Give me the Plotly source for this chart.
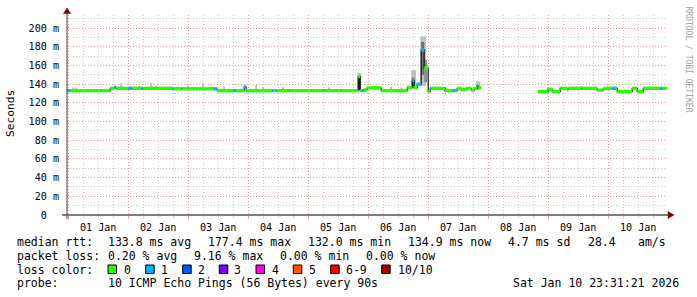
import pandas as pd
import plotly.graph_objects as go

# ---------------- data ----------------
range_start = "2025-12-31 23:31:21"
range_end = "2026-01-10 23:31:21"

seg_start = [
    "2025-12-31 23:31", "2026-01-01 00:48", "2026-01-01 16:48", "2026-01-01 18:24", "2026-01-01 19:12",
    "2026-01-02 00:00", "2026-01-02 01:36", "2026-01-02 05:12", "2026-01-02 06:00", "2026-01-02 17:36",
    "2026-01-02 18:00", "2026-01-02 21:12", "2026-01-02 21:36", "2026-01-03 10:00", "2026-01-03 11:36",
    "2026-01-03 18:00", "2026-01-03 19:12", "2026-01-03 22:24", "2026-01-03 23:12", "2026-01-04 09:36",
    "2026-01-04 10:00", "2026-01-04 11:12", "2026-01-04 11:36", "2026-01-05 06:00", "2026-01-05 06:24",
    "2026-01-05 20:00", "2026-01-05 20:48", "2026-01-05 21:36", "2026-01-05 22:24", "2026-01-05 23:36",
    "2026-01-06 05:12", "2026-01-06 15:36", "2026-01-06 17:36", "2026-01-06 18:24", "2026-01-06 19:36",
    "2026-01-06 21:12", "2026-01-06 22:24", "2026-01-07 00:00", "2026-01-07 00:48", "2026-01-07 01:12",
    "2026-01-07 06:48", "2026-01-07 09:36", "2026-01-07 10:48", "2026-01-07 11:36", "2026-01-07 13:12",
    "2026-01-07 15:12", "2026-01-07 17:12", "2026-01-07 18:24", "2026-01-07 19:36", "2026-01-07 20:00",
    "2026-01-07 21:12", "2026-01-08 20:00", "2026-01-09 00:00", "2026-01-09 01:36", "2026-01-09 04:48",
    "2026-01-09 07:36", "2026-01-09 08:00", "2026-01-09 13:12", "2026-01-09 13:36", "2026-01-09 19:36",
    "2026-01-09 22:00", "2026-01-09 22:48", "2026-01-10 01:36", "2026-01-10 02:48", "2026-01-10 03:36",
    "2026-01-10 09:36", "2026-01-10 11:36", "2026-01-10 14:00", "2026-01-10 20:48", "2026-01-10 21:36",
]
data_end = "2026-01-10 23:31"

# median rtt in ms (None = no data)
seg_median = [
    133.0, 133.0, 135.5, 136.5, 135.5,
    135.5, 135.5, 135.5, 135.5, 135.0,
    135.0, 135.0, 135.0, 135.0, 133.0,
    133.0, 133.0, 137.0, 133.0, 133.0,
    133.0, 133.0, 133.0, 133.0, 133.0,
    148.0, 133.0, 133.0, 134.0, 136.0,
    133.0, 136.0, 144.0, 136.0, 140.0,
    176.5, 157.0, 132.0, 135.5, 135.5,
    133.0, 133.0, 133.0, 135.5, 134.0,
    135.5, 133.5, 135.5, 138.0, 136.0,
    None, 132.0, 134.5, 132.0, 135.5,
    134.0, 135.5, 135.5, 135.5, 133.5,
    135.0, 135.5, 135.5, 135.5, 132.0,
    135.5, 132.0, 135.5, 135.5, 135.5,
]

# lost pings out of 10
seg_loss = [
    1, 0, 0, 1, 0,
    1, 0, 1, 0, 1,
    0, 1, 0, 1, 0,
    1, 0, 1, 0, 1,
    0, 1, 0, 1, 0,
    0, 0, 1, 0, 0,
    0, 0, 1, 0, 1,
    1, 0, 0, 1, 0,
    0, 1, 0, 0, 0,
    0, 0, 0, 1, 0,
    0, 0, 0, 0, 0,
    0, 0, 1, 0, 0,
    0, 0, 1, 0, 0,
    0, 0, 0, 1, 0,
]

# smoke (spread of individual pings), ms
smoke_start = ["2026-01-01 01:36", "2026-01-01 02:48", "2026-01-01 20:48", "2026-01-02 04:00", "2026-01-02 08:48",
               "2026-01-02 10:48", "2026-01-02 19:36", "2026-01-02 23:36", "2026-01-03 05:36", "2026-01-03 14:00",
               "2026-01-04 02:48", "2026-01-04 05:36", "2026-01-04 13:36", "2026-01-05 08:00", "2026-01-05 19:36",
               "2026-01-05 20:00", "2026-01-06 08:48", "2026-01-06 12:48", "2026-01-06 15:36", "2026-01-06 17:12",
               "2026-01-06 17:36", "2026-01-06 20:48", "2026-01-06 21:12", "2026-01-06 22:24", "2026-01-07 06:24",
               "2026-01-07 19:12", "2026-01-08 23:36"]
smoke_end = ["2026-01-01 02:24", "2026-01-01 03:36", "2026-01-01 21:36", "2026-01-02 04:48", "2026-01-02 09:36",
             "2026-01-02 11:36", "2026-01-02 20:00", "2026-01-03 00:00", "2026-01-03 06:24", "2026-01-03 14:24",
             "2026-01-04 03:36", "2026-01-04 06:00", "2026-01-04 14:00", "2026-01-05 08:24", "2026-01-05 21:12",
             "2026-01-05 20:48", "2026-01-06 09:36", "2026-01-06 13:36", "2026-01-06 16:24", "2026-01-06 19:12",
             "2026-01-06 18:24", "2026-01-06 23:12", "2026-01-06 22:24", "2026-01-06 23:36", "2026-01-07 06:48",
             "2026-01-07 20:48", "2026-01-09 00:00"]
smoke_lo = [132, 132, 134, 134, 134, 134, 134, 134, 134, 132,
            132, 132, 132, 132, 134, 134, 132, 132, 134, 136,
            138, 138, 150, 142, 132, 134, 132]
smoke_hi = [136.5, 136.5, 141, 138, 141, 138.5, 137.5, 138, 141, 137.5,
            139, 137, 137, 136.5, 152, 149, 137, 136.5, 139, 155,
            147, 191, 185, 166, 137, 143, 136.5]
smoke_shade = ["#c0c0c0"] * 15 + ["#202020"] + ["#c0c0c0"] * 4 + ["#606060", "#c0c0c0", "#707070", "#8c8c8c",
                                                                  "#c0c0c0", "#c0c0c0", "#c0c0c0"]

loss_labels = ["0", "1", "2", "3", "4", "5", "6-9", "10/10"]
loss_colors = ["#26ff00", "#00b8ff", "#0059ff", "#7e00ff", "#ff00f0", "#ff5500", "#ff0000", "#a10000"]

y_ticks = [0, 20, 40, 60, 80, 100, 120, 140, 160, 180, 200]
y_ticktext = ["0\u00a0\u00a0"] + [f"{v} m" for v in y_ticks[1:]]

stat_rtt = ["133.8 ms avg", "177.4 ms max", "132.0 ms min", "134.9 ms now", "4.7 ms sd", "28.4", "am/s"]
stat_loss = ["0.20 % avg", "9.16 % max", "0.00 % min", "0.00 % now"]
probe_text = "10 ICMP Echo Pings (56 Bytes) every 90s"
stamp_text = "Sat Jan 10 23:31:21 2026"

# ---------------- geometry ----------------
W, H = 697, 297
L, R, T, B = 67, 30, 15, 82
PW, PH = W - L - R, H - T - B
YMAX = 200 / 0.935

def px(x):
    return (x - L) / PW

def py(y):
    return (H - B - y) / PH

FONT = "DejaVu Sans Mono"

starts = pd.to_datetime(seg_start)
ends = list(starts[1:]) + [pd.Timestamp(data_end)]

fig = go.Figure()

# smoke
ss = pd.to_datetime(smoke_start)
se = pd.to_datetime(smoke_end)
centers = ss + (se - ss) / 2
widths = [(b - a).total_seconds() * 1000 for a, b in zip(ss, se)]
fig.add_trace(go.Bar(
    x=centers, y=[h - l for h, l in zip(smoke_hi, smoke_lo)], base=smoke_lo,
    width=widths, marker=dict(color=smoke_shade, line=dict(width=0)),
    hoverinfo="skip", showlegend=False,
))

# thin dark median line
lx, ly = [], []
for s, e, m in zip(starts, ends, seg_median):
    if m is None:
        lx.append(None); ly.append(None)
    else:
        lx += [s, e]; ly += [m, m]
fig.add_trace(go.Scatter(x=lx, y=ly, mode="lines", line=dict(color="#151515", width=1.2),
                         hoverinfo="skip", showlegend=False, connectgaps=False))

# loss coloured median band
for lvl in sorted(set(seg_loss)):
    bx, by = [], []
    for s, e, m, lo in zip(starts, ends, seg_median, seg_loss):
        if m is None or lo != lvl:
            continue
        bx += [s, e, None]; by += [m, m, None]
    fig.add_trace(go.Scatter(x=bx, y=by, mode="lines",
                             line=dict(color=loss_colors[lvl], width=3.4),
                             hoverinfo="skip", showlegend=False))

GRID = "#cdcdcd"
MGRID = "#e39a9a"

fig.update_layout(
    width=W, height=H,
    margin=dict(l=L, r=R, t=T, b=B, pad=0),
    paper_bgcolor="white", plot_bgcolor="white",
    barmode="overlay", showlegend=False,
    font=dict(family=FONT, size=10, color="black"),
    xaxis=dict(
        type="date", range=[range_start, range_end],
        tick0="2026-01-01", dtick=86400000, ticklabelmode="period", tickformat="%d %b",
        showgrid=True, gridcolor=MGRID, griddash="1px,2px", gridwidth=1,
        ticks="outside", ticklen=3, tickcolor=MGRID,
        tickfont=dict(family=FONT, size=10.1, color="black"),
        minor=dict(dtick=6 * 3600000, tick0="2026-01-01", showgrid=True, gridcolor=GRID,
                   griddash="1px,2px", ticks="outside", ticklen=2, tickcolor=GRID),
        showline=False, zeroline=False, fixedrange=True,
    ),
    yaxis=dict(
        range=[0, YMAX], tickmode="array", tickvals=y_ticks, ticktext=y_ticktext,
        showgrid=True, gridcolor=MGRID, griddash="1px,2px",
        ticks="outside", ticklen=5, tickcolor="rgba(0,0,0,0)",
        tickfont=dict(family=FONT, size=10.1, color="black"),
        minor=dict(tickmode="linear", tick0=0, dtick=10, showgrid=True, gridcolor=GRID,
                   griddash="1px,2px", ticks=""),
        showline=False, zeroline=False, fixedrange=True,
    ),
)

shapes = []
# x axis line + arrow
shapes.append(dict(type="line", xref="paper", yref="paper", x0=px(62), x1=px(669), y0=0, y1=0,
                   line=dict(color="#000000", width=1)))
shapes.append(dict(type="path", xref="paper", yref="paper",
                   path=f"M {px(668)},{py(211.5)} L {px(674)},{py(215)} L {px(668)},{py(218.5)} Z",
                   fillcolor="#7f0000", line=dict(color="#7f0000", width=0.5)))
# y axis line + arrow
shapes.append(dict(type="line", xref="paper", yref="paper", x0=0, x1=0, y0=py(219), y1=py(12),
                   line=dict(color="#5a3030", width=1)))
shapes.append(dict(type="path", xref="paper", yref="paper",
                   path=f"M {px(63.5)},{py(13.5)} L {px(67)},{py(8)} L {px(70.5)},{py(13.5)} Z",
                   fillcolor="#7f0000", line=dict(color="#7f0000", width=0.5)))

ann = []

def text(t, x, y, size=11.5, color="black", anchor="left"):
    ann.append(dict(text=t.replace(" ", "\u00a0"), x=px(x), y=py(y), xref="paper", yref="paper",
                    xanchor=anchor, yanchor="middle", showarrow=False, borderpad=0,
                    font=dict(family=FONT, size=size, color=color)))

# legend block
text("median rtt:", 16, 241.5)
for i, s in enumerate(stat_rtt[:5]):
    text(s, 107 + 100 * i, 241.5)
text(stat_rtt[5], 587, 241.5)
text(stat_rtt[6], 637, 241.5)

text("packet loss:", 16, 255.5)
for i, s in enumerate(stat_loss):
    text(s, 107 + 86 * i, 255.5)

text("loss color:", 16, 269.5)
sq_x = [108, 145.7, 182.7, 219.3, 256, 293.3, 330.7, 381.7]
lab_x = [123, 160, 196.7, 233, 270.7, 308, 345, 396.7]
for c, lab, sx, lx_ in zip(loss_colors, loss_labels, sq_x, lab_x):
    shapes.append(dict(type="rect", xref="paper", yref="paper",
                       x0=px(sx), x1=px(sx + 8.5), y0=py(273.5), y1=py(265),
                       fillcolor=c, line=dict(color="black", width=1)))
    text(lab, lx_, 269.5)

text("probe:", 16, 283)
text(probe_text, 107, 283)
text(stamp_text, 680, 283, anchor="right")

# y axis title
ann.append(dict(text="Seconds", x=px(10.5), y=py(113.5), xref="paper", yref="paper",
                xanchor="center", yanchor="middle", showarrow=False, textangle=-90,
                font=dict(family=FONT, size=11.2, color="black")))
# watermark
ann.append(dict(text="RRDTOOL / TOBI OETIKER".replace(" ", "\u00a0"), x=px(687.5), y=py(59),
                xref="paper", yref="paper", xanchor="center", yanchor="middle",
                showarrow=False, textangle=90, font=dict(family=FONT, size=8, color="#a0a0a0")))

fig.update_layout(shapes=shapes, annotations=ann)
fig.write_html("out.html")
